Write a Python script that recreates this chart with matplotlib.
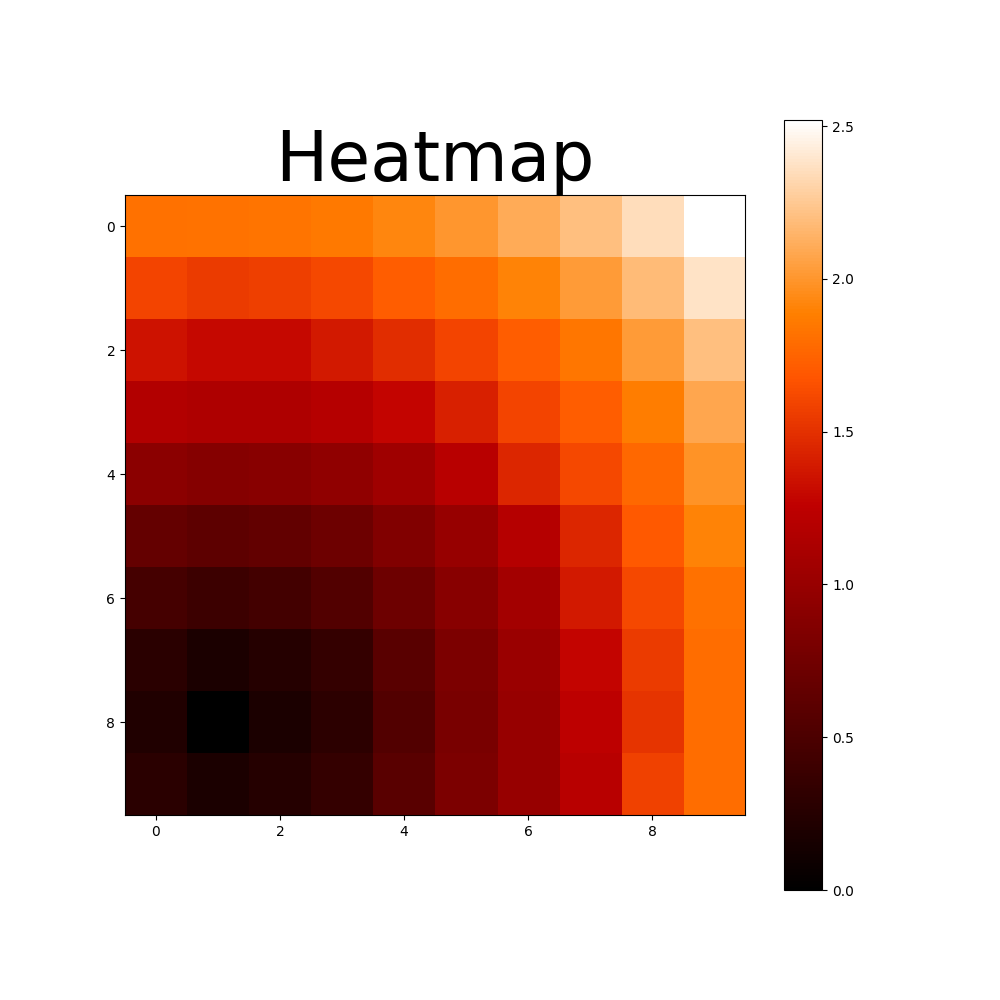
import matplotlib
matplotlib.use("Agg")
import matplotlib.pyplot as plt
import numpy as np

row0 = [1.82, 1.83, 1.84, 1.86, 1.92, 2.00, 2.10, 2.20, 2.35, 2.52]
row1 = [1.60, 1.55, 1.57, 1.62, 1.72, 1.80, 1.90, 2.02, 2.18, 2.38]
row2 = [1.35, 1.30, 1.30, 1.38, 1.48, 1.60, 1.72, 1.85, 2.02, 2.20]
row3 = [1.18, 1.15, 1.15, 1.20, 1.28, 1.42, 1.60, 1.72, 1.88, 2.08]
row4 = [0.92, 0.88, 0.90, 0.95, 1.05, 1.22, 1.45, 1.62, 1.78, 1.98]
row5 = [0.66, 0.62, 0.65, 0.72, 0.85, 1.00, 1.20, 1.45, 1.70, 1.90]
row6 = [0.46, 0.40, 0.45, 0.55, 0.72, 0.90, 1.08, 1.38, 1.62, 1.82]
row7 = [0.28, 0.18, 0.25, 0.35, 0.60, 0.82, 1.02, 1.28, 1.55, 1.80]
row8 = [0.22, 0.00, 0.18, 0.30, 0.55, 0.80, 1.00, 1.25, 1.52, 1.80]
row9 = [0.28, 0.18, 0.25, 0.35, 0.60, 0.82, 1.00, 1.22, 1.58, 1.80]

data = np.array([row0, row1, row2, row3, row4, row5, row6, row7, row8, row9])

plt.figure(figsize=(10, 10))
im = plt.imshow(data, cmap='gist_heat')
plt.colorbar(im)
plt.title('Heatmap', fontsize=50)
plt.savefig('out.png')
